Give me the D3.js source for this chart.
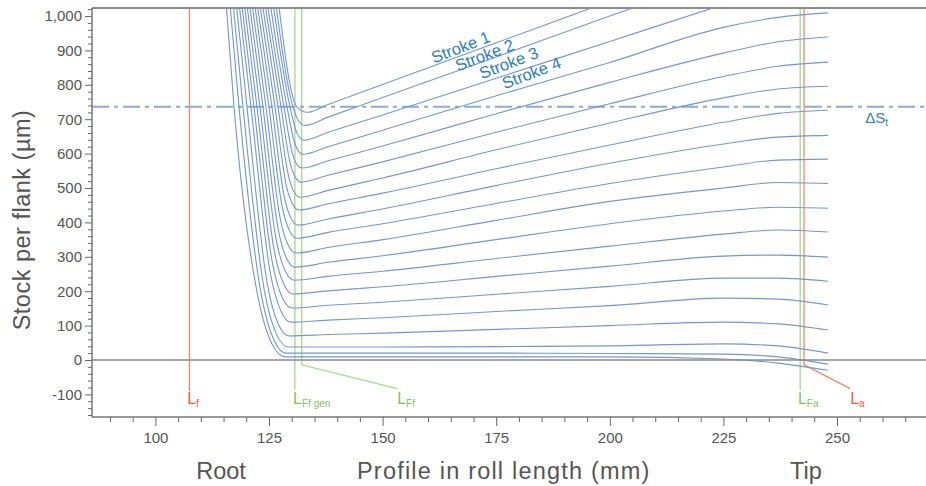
<!DOCTYPE html>
<html>
<head>
<meta charset="utf-8">
<script src="https://cdn.jsdelivr.net/npm/d3@7"></script>
<style>
  body { margin: 0; background: #fff; }
  svg { display: block; font-family: 'Liberation Sans', Arial, sans-serif; }
</style>
</head>
<body>
<svg id="chart"></svg>
<script>
// stock per flank after each roll stroke, [profile in roll length (mm), stock (µm)]
const stroke01 = [[126.54, 1100], [131.17, 735], [133.37, 720], [138, 743], [150, 801], [175, 922], [200, 1043], [210, 1091]];
const stroke02 = [[125.88, 1100], [130.29, 735], [131.56, 694], [132.27, 685], [132.93, 682], [138, 706], [150, 763], [175, 881], [200, 1000], [215, 1070]];
const stroke03 = [[125.22, 1100], [129.63, 735], [131.10, 661], [131.94, 644], [132.71, 639], [138, 662], [150, 712], [175, 819], [200, 926], [225, 1033], [235, 1074]];
const stroke04 = [[124.56, 1100], [128.97, 735], [130.66, 630], [131.61, 605], [132.49, 598], [138, 620], [150, 668], [175, 768], [200, 865], [225, 967], [237, 996], [248, 1009]];
const stroke05 = [[123.90, 1100], [128.30, 735], [130.20, 598], [131.28, 566], [132.27, 558], [138, 579], [150, 622], [175, 716], [200, 807], [225, 892], [237, 925], [248, 939]];
const stroke06 = [[123.35, 1100], [127.64, 735], [129.76, 567], [130.95, 528], [132.05, 517], [138, 537], [150, 576], [175, 662], [200, 745], [225, 824], [237, 854], [248, 866]];
const stroke07 = [[122.80, 1100], [126.98, 735], [129.32, 534], [130.62, 486], [131.83, 473], [138, 493], [150, 529], [175, 611], [200, 689], [225, 762], [237, 788], [248, 796]];
const stroke08 = [[122.25, 1100], [126.32, 735], [128.86, 504], [130.29, 451], [131.61, 436], [138, 454], [150, 485], [175, 556], [200, 625], [225, 691], [237, 717], [248, 726]];
const stroke09 = [[121.70, 1100], [125.66, 735], [128.41, 471], [129.96, 409], [131.39, 392], [138, 410], [150, 439], [175, 507], [200, 572], [225, 628], [237, 648], [248, 653]];
const stroke10 = [[121.15, 1100], [125.00, 735], [127.95, 442], [129.63, 373], [131.17, 354], [138, 371], [150, 396], [175, 455], [200, 513], [225, 561], [237, 581], [248, 584]];
const stroke11 = [[120.60, 1100], [124.34, 735], [127.51, 408], [129.30, 332], [130.95, 311], [138, 327], [150, 350], [175, 406], [200, 461], [225, 500], [237, 516], [248, 513]];
const stroke12 = [[120.05, 1100], [123.68, 735], [127.07, 377], [128.97, 293], [130.73, 270], [138, 284], [150, 303], [175, 350], [200, 396], [225, 433], [237, 444], [248, 441]];
const stroke13 = [[119.50, 1100], [123.02, 735], [126.61, 348], [128.64, 257], [130.51, 232], [138, 243], [150, 258], [175, 295], [200, 331], [225, 366], [237, 378], [248, 372]];
const stroke14 = [[118.95, 1100], [122.36, 735], [126.17, 317], [128.30, 219], [130.29, 192], [138, 201], [150, 213], [175, 243], [200, 273], [225, 302], [237, 305], [248, 299]];
const stroke15 = [[118.40, 1100], [121.70, 735], [125.71, 285], [127.97, 180], [130.07, 151], [138, 159], [150, 168], [175, 191], [200, 214], [225, 238], [237, 238], [248, 229]];
const stroke16 = [[117.85, 1100], [121.04, 735], [125.27, 254], [127.64, 142], [129.85, 110], [138, 116], [150, 123], [175, 141], [200, 158], [225, 180], [237, 177], [248, 160]];
const stroke17 = [[117.30, 1100], [120.16, 735], [124.61, 223], [127.09, 103], [129.41, 70], [138, 74], [150, 78], [175, 89], [200, 100], [225, 110], [237, 105], [248, 87]];
const stroke18 = [[116.64, 1100], [119.28, 735], [124.03, 198], [126.71, 73], [129.19, 38], [150, 38], [175, 39], [200, 41], [225, 47], [237, 41], [248, 20]];
const stroke19 = [[115.98, 1100], [118.40, 735], [123.37, 185], [126.16, 56], [128.75, 20], [150, 20], [175, 20], [200, 19], [225, 17], [237, 9], [248, -12]];
const stroke20 = [[115.21, 1100], [117.30, 735], [122.69, 176], [125.72, 45], [128.53, 9], [150, 9], [175, 9], [200, 9], [225, 3], [237, -9], [248, -30]];
const strokes = [stroke01, stroke02, stroke03, stroke04, stroke05, stroke06, stroke07, stroke08, stroke09, stroke10,
    stroke11, stroke12, stroke13, stroke14, stroke15, stroke16, stroke17, stroke18, stroke19, stroke20];

// labelled strokes and where their labels sit (mm, µm)
const strokeNames = ['Stroke 1', 'Stroke 2', 'Stroke 3', 'Stroke 4'];
const strokeLabelAt = [[161.3, 862], [166.6, 839], [171.9, 816], [176.9, 787]];

// tolerance line
const deltaSt = 736;

// profile limits: position (mm), lower end (µm), label position (mm)
const limitSub = ['f', 'Ff gen', 'Ff', 'Fa', 'a'];
const limitX = [107.5, 130.7, 132.2, 241.9, 242.75];
const limitEnd = [-90, -87, -14, -87, -14];
const limitLabelX = [107.0, 130.3, 153.2, 241.4, 252.9];
const limitIsRoll = [true, false, false, false, true];

// axis ticks
const xTicks = [100, 125, 150, 175, 200, 225, 250];
const xMinor = d3.range(90, 270, 5);
const yTicks = d3.range(-100, 1001, 100);
const yMinor = d3.range(-160, 1021, 20);

const width = 926;
const height = 486;
const plotLeft = 92, plotRight = 926, plotTop = 8, plotBottom = 417;

const red = '#f2876a', redText = '#ec5a32';
const green = '#a9d68c', greenText = '#84c457';
const blueLine = '#7596d2', blueText = '#2c7dc2';

const svg = d3.select('#chart').attr('width', width).attr('height', height);

const x = d3.scaleLinear().domain([100, 250]).range([155.4, 837]);
const y = d3.scaleLinear().domain([0, 1000]).range([360, 16]);

svg.append('clipPath').attr('id', 'plot')
    .append('rect')
    .attr('x', plotLeft).attr('y', plotTop)
    .attr('width', plotRight - plotLeft).attr('height', plotBottom - plotTop);

const fmt = d3.formatLocale({ decimal: '.', thousands: ',', grouping: [3], currency: ['', ''], minus: '-' }).format(',');

// minor ticks
svg.append('g')
    .attr('transform', `translate(0,${plotBottom})`)
    .call(d3.axisBottom(x).tickValues(xMinor.filter(d => d % 25 !== 0)).tickSize(5).tickFormat(''))
    .call(g => g.select('.domain').remove())
    .call(g => g.selectAll('line').attr('stroke', '#666'));

svg.append('g')
    .attr('transform', `translate(${plotLeft},0)`)
    .call(d3.axisLeft(y).tickValues(yMinor.filter(d => d % 100 !== 0)).tickSize(4).tickFormat(''))
    .call(g => g.select('.domain').remove())
    .call(g => g.selectAll('line').attr('stroke', '#666'));

// major ticks
svg.append('g')
    .attr('transform', `translate(0,${plotBottom})`)
    .call(d3.axisBottom(x).tickValues(xTicks).tickSize(9).tickPadding(6).tickFormat(d3.format('d')))
    .call(g => g.select('.domain').remove())
    .call(g => g.selectAll('line').attr('stroke', '#666'))
    .call(g => g.selectAll('text').attr('font-size', 15).attr('fill', '#555'))
    .attr('font-family', null);

svg.append('g')
    .attr('transform', `translate(${plotLeft},0)`)
    .call(d3.axisLeft(y).tickValues(yTicks).tickSize(7).tickPadding(3).tickFormat(fmt))
    .call(g => g.select('.domain').remove())
    .call(g => g.selectAll('line').attr('stroke', '#666'))
    .call(g => g.selectAll('text').attr('font-size', 15).attr('fill', '#555'))
    .attr('font-family', null);

const plot = svg.append('g').attr('clip-path', 'url(#plot)');

// profile limit lines
limitX.forEach((lx, i) => {
    const col = limitIsRoll[i] ? red : green;
    const pts = [[lx, 1100], [lx, limitEnd[i]]];
    if (limitLabelX[i] - lx > 5) pts.push([limitLabelX[i], -83]);
    plot.append('path')
        .attr('d', d3.line().x(d => x(d[0])).y(d => y(d[1]))(pts))
        .attr('fill', 'none')
        .attr('stroke', col)
        .attr('stroke-width', 1.3);
});

// ΔSt line
plot.append('line')
    .attr('x1', plotLeft).attr('x2', plotRight)
    .attr('y1', y(deltaSt)).attr('y2', y(deltaSt))
    .attr('stroke', '#8ea8da')
    .attr('stroke-width', 2)
    .attr('stroke-dasharray', '17,5,4,5');

// stroke curves
const line = d3.line()
    .x(d => x(d[0]))
    .y(d => y(d[1]))
    .curve(d3.curveMonotoneX);

plot.selectAll('path.stroke')
    .data(strokes)
    .enter().append('path')
    .attr('class', 'stroke')
    .attr('d', line)
    .attr('fill', 'none')
    .attr('stroke', blueLine)
    .attr('stroke-width', 1.1);

// zero line and frame
svg.append('line')
    .attr('x1', plotLeft).attr('x2', plotRight)
    .attr('y1', y(0)).attr('y2', y(0))
    .attr('stroke', '#8a8a8a').attr('stroke-width', 1.6);

svg.append('line')
    .attr('x1', plotLeft).attr('x2', plotRight)
    .attr('y1', plotTop).attr('y2', plotTop)
    .attr('stroke', '#8c8c8c').attr('stroke-width', 2);

svg.append('line')
    .attr('x1', plotLeft).attr('x2', plotLeft)
    .attr('y1', plotTop).attr('y2', plotBottom)
    .attr('stroke', '#777').attr('stroke-width', 1.5);

svg.append('line')
    .attr('x1', plotLeft).attr('x2', plotRight)
    .attr('y1', plotBottom).attr('y2', plotBottom)
    .attr('stroke', '#777').attr('stroke-width', 1.5);

// stroke labels
svg.selectAll('text.strokeLabel')
    .data(strokeNames)
    .enter().append('text')
    .attr('class', 'strokeLabel')
    .attr('transform', (d, i) => `translate(${x(strokeLabelAt[i][0])},${y(strokeLabelAt[i][1])}) rotate(-21)`)
    .attr('font-size', 16.5)
    .attr('fill', blueText)
    .text(d => d);

// ΔSt label
const dl = svg.append('text')
    .attr('x', x(256.2)).attr('y', y(688))
    .attr('font-size', 15)
    .attr('fill', blueText);
dl.append('tspan').text('ΔS');
dl.append('tspan').attr('font-size', 10).attr('dy', 3).text('t');

// limit labels
limitSub.forEach((s, i) => {
    const t = svg.append('text')
        .attr('x', x(limitLabelX[i]))
        .attr('y', y(-128))
        .attr('font-size', 16)
        .attr('fill', limitIsRoll[i] ? redText : greenText);
    t.append('tspan').text('L');
    t.append('tspan').attr('font-size', 10).attr('dy', 3).text(s);
});

// axis titles
svg.append('text')
    .attr('transform', 'translate(30,220) rotate(-90)')
    .attr('text-anchor', 'middle')
    .attr('font-size', 23.5)
    .attr('letter-spacing', 0.5)
    .attr('fill', '#555')
    .text('Stock per flank (µm)');

svg.append('text')
    .attr('x', 221).attr('y', 479)
    .attr('text-anchor', 'middle')
    .attr('font-size', 23.5)
    .attr('fill', '#555')
    .text('Root');

svg.append('text')
    .attr('x', 357).attr('y', 479)
    .attr('font-size', 23.5)
    .attr('letter-spacing', 1.2)
    .attr('fill', '#555')
    .text('Profile in roll length (mm)');

svg.append('text')
    .attr('x', 806).attr('y', 479)
    .attr('text-anchor', 'middle')
    .attr('font-size', 23.5)
    .attr('fill', '#555')
    .text('Tip');
</script>
</body>
</html>
